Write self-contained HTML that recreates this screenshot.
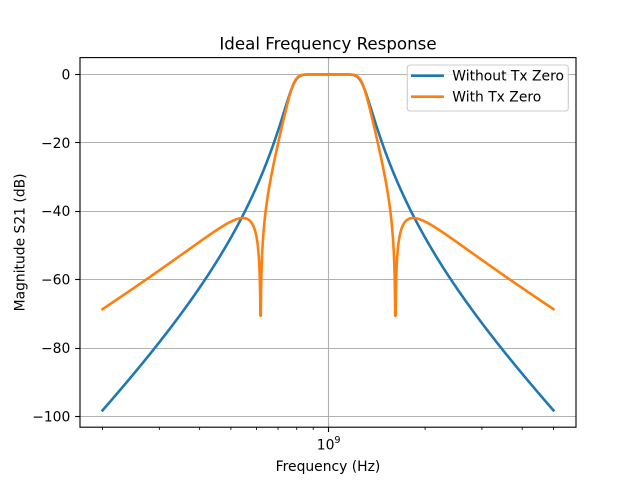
<!DOCTYPE html>
<html>
<head>
<meta charset="utf-8">
<style>
  html,body{margin:0;padding:0;background:#fff;}
  svg{display:block;}
  text{font-family:"DejaVu Sans","Liberation Sans",sans-serif;fill:#000;}
</style>
</head>
<body>
<svg id="fig" width="640" height="480" viewBox="0 0 640 480" xmlns="http://www.w3.org/2000/svg">
  <rect x="0" y="0" width="640" height="480" fill="#fff"/>
  <rect x="80" y="57.6" width="496" height="369.6" fill="#fff"/>
  <g id="grid" stroke="#b0b0b0" stroke-width="1.11" fill="none"></g>
  <g id="ticks" stroke="#000" fill="none"></g>
  <path id="blue" fill="none" stroke="#1f77b4" stroke-width="2.6" stroke-linejoin="round" stroke-linecap="square"/>
  <path id="orange" fill="none" stroke="#ff7f0e" stroke-width="2.6" stroke-linejoin="round" stroke-linecap="square"/>
  <rect x="80" y="57.6" width="496" height="369.6" fill="none" stroke="#000" stroke-width="1.11"/>

  <!-- y tick labels -->
  <g id="ylabels" font-size="13.89" text-anchor="end">
    <text id="yl0" x="70.3" y="79.4">0</text>
    <text id="yl1" x="70.3" y="147.8">−20</text>
    <text id="yl2" x="70.3" y="216.2">−40</text>
    <text id="yl3" x="70.3" y="284.6">−60</text>
    <text id="yl4" x="70.3" y="353">−80</text>
    <text id="yl5" x="70.3" y="421.4">−100</text>
  </g>

  <!-- x tick label 10^9 -->
  <text x="316.8" y="449.5" font-size="13.89">10</text>
  <text x="334.4" y="443" font-size="9.7">9</text>

  <!-- axis labels -->
  <text x="328" y="471" font-size="13.89" text-anchor="middle">Frequency (Hz)</text>
  <text transform="translate(24.5,242.4) rotate(-90)" x="0" y="0" font-size="13.89" text-anchor="middle">Magnitude S21 (dB)</text>

  <!-- title -->
  <text x="328" y="49.3" font-size="16.67" text-anchor="middle">Ideal Frequency Response</text>

  <!-- legend -->
  <rect x="407.3" y="65" width="161" height="46" rx="2.8" ry="2.8" fill="#fff" fill-opacity="0.8" stroke="#cccccc" stroke-width="1.11"/>
  <line x1="412.3" y1="75.7" x2="442.7" y2="75.7" stroke="#1f77b4" stroke-width="2.6" stroke-linecap="square"/>
  <line x1="412.3" y1="96.7" x2="442.7" y2="96.7" stroke="#ff7f0e" stroke-width="2.6" stroke-linecap="square"/>
  <text x="452.3" y="80.7" font-size="13.89">Without Tx Zero</text>
  <text x="452.3" y="101.7" font-size="13.89">With Tx Zero</text>
</svg>
<script>
(function(){
  var NS="http://www.w3.org/2000/svg";
  var L0=Math.log10(2e8), L1=Math.log10(5e9);
  var xl0=L0-0.05*(L1-L0), xl1=L1+0.05*(L1-L0);
  function X(f){return 80+496*(Math.log10(f)-xl0)/(xl1-xl0);}
  var N=4000, bx=[], bv=[], ov=[];
  var dmin=1e9, dmax=-1e9;
  for(var i=0;i<=N;i++){
    var lf=L0+(L1-L0)*i/N, f=Math.pow(10,lf), r=f/1e9;
    var W=(r-1/r)/0.5;
    var b=-10*Math.log10(1+Math.pow(W*W,5));
    var den=Math.abs(1-W*W/4);
    var Fo=0.73*Math.pow(Math.abs(W),5)/Math.max(den,1e-12);
    var o=-10*Math.log10(1+Fo*Fo);
    if(!(o>-70.6)) o=-70.6;
    bx.push(X(f)); bv.push(b); ov.push(o);
    dmin=Math.min(dmin,b,o); dmax=Math.max(dmax,b,o);
  }
  var R=dmax-dmin, ymax=dmax+0.05*R, ymin=dmin-0.05*R;
  function Y(v){return 57.6+369.6*(ymax-v)/(ymax-ymin);}
  function path(vals){
    var s="";
    for(var i=0;i<vals.length;i++){
      s+=(i?"L":"M")+bx[i].toFixed(2)+" "+Y(vals[i]).toFixed(2);
    }
    return s;
  }
  document.getElementById("blue").setAttribute("d",path(bv));
  document.getElementById("orange").setAttribute("d",path(ov));

  var grid=document.getElementById("grid"), ticks=document.getElementById("ticks");
  function line(g,x1,y1,x2,y2,w){
    var l=document.createElementNS(NS,"line");
    l.setAttribute("x1",x1);l.setAttribute("y1",y1);
    l.setAttribute("x2",x2);l.setAttribute("y2",y2);
    if(w) l.setAttribute("stroke-width",w);
    g.appendChild(l);
  }
  var vals=[0,-20,-40,-60,-80,-100];
  for(var k=0;k<vals.length;k++){
    var y=Y(vals[k]);
    var ys=Math.floor(y)+0.5;
    line(grid,80,ys,576,ys);
    line(ticks,80-4.86,ys,80,ys,1.11);
    var t=document.getElementById("yl"+k);
    t.setAttribute("y",(y+5).toFixed(2));
  }
  var xm=Math.floor(X(1e9))+0.5;
  line(grid,xm,57.6,xm,427.2);
  line(ticks,xm,427.2,xm,427.2+4.86,1.11);
  var minors=[2e8,3e8,4e8,5e8,6e8,7e8,8e8,9e8,2e9,3e9,4e9,5e9];
  for(var m=0;m<minors.length;m++){
    var xx=X(minors[m]);
    line(ticks,xx,427.2,xx,427.2+2.78,0.83);
  }
})();
</script>
</body>
</html>
